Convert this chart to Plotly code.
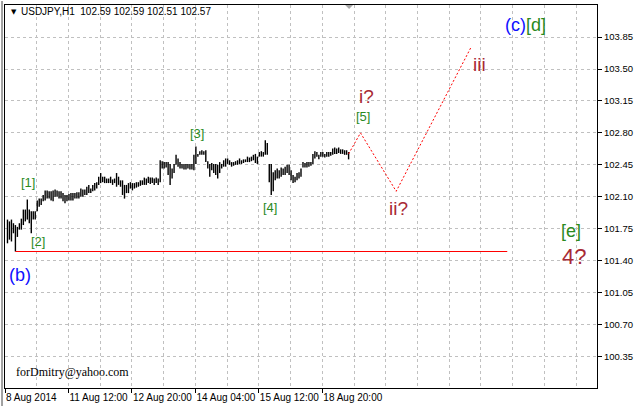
import plotly.graph_objects as go

# ---------------- data ----------------
symbol_info = "USDJPY,H1  102.59 102.59 102.51 102.57"

highs = [101.85, 101.83, 101.85, 101.81, 101.79, 101.77, 101.81, 101.86, 101.96, 101.96,
         102.07, 101.96, 101.94, 101.94, 101.94, 102.06, 102.08, 102.08, 102.12, 102.17,
         102.17, 102.16, 102.16, 102.17, 102.18, 102.17, 102.16, 102.16, 102.14, 102.12,
         102.12, 102.13, 102.14, 102.14, 102.14, 102.15, 102.15, 102.19, 102.18, 102.18,
         102.21, 102.23, 102.19, 102.23, 102.25, 102.26, 102.32, 102.36, 102.32, 102.32,
         102.30, 102.30, 102.32, 102.29, 102.30, 102.36, 102.32, 102.28, 102.28, 102.23,
         102.23, 102.25, 102.26, 102.25, 102.25, 102.26, 102.26, 102.28, 102.28, 102.31,
         102.30, 102.32, 102.31, 102.31, 102.30, 102.31, 102.30, 102.50, 102.49, 102.48,
         102.48, 102.48, 102.46, 102.41, 102.46, 102.56, 102.52, 102.48, 102.46, 102.46,
         102.46, 102.46, 102.46, 102.46, 102.56, 102.65, 102.57, 102.60, 102.61, 102.60,
         102.61, 102.49, 102.46, 102.47, 102.46, 102.46, 102.45, 102.48, 102.46, 102.50,
         102.52, 102.52, 102.50, 102.48, 102.48, 102.49, 102.50, 102.52, 102.50, 102.51,
         102.51, 102.54, 102.53, 102.54, 102.56, 102.57, 102.54, 102.59, 102.60, 102.59,
         102.72, 102.69, 102.46, 102.46, 102.37, 102.39, 102.41, 102.39, 102.42, 102.41,
         102.43, 102.45, 102.45, 102.39, 102.34, 102.32, 102.36, 102.37, 102.41, 102.48,
         102.47, 102.48, 102.48, 102.48, 102.57, 102.60, 102.59, 102.56, 102.59, 102.59,
         102.57, 102.59, 102.59, 102.59, 102.63, 102.64, 102.63, 102.64, 102.62, 102.62,
         102.61, 102.61, 102.59]

lows = [101.59, 101.63, 101.61, 101.70, 101.50, 101.66, 101.74, 101.74, 101.79, 101.83,
        101.85, 101.81, 101.70, 101.85, 101.85, 101.94, 101.99, 102.01, 102.05, 102.06,
        102.08, 102.08, 102.06, 102.05, 102.10, 102.10, 102.08, 102.08, 102.05, 102.03,
        102.05, 102.06, 102.06, 102.06, 102.08, 102.08, 102.08, 102.10, 102.10, 102.12,
        102.12, 102.14, 102.14, 102.16, 102.17, 102.19, 102.23, 102.25, 102.26, 102.25,
        102.25, 102.25, 102.25, 102.23, 102.25, 102.21, 102.23, 102.21, 102.12, 102.08,
        102.14, 102.14, 102.19, 102.17, 102.19, 102.20, 102.21, 102.22, 102.23, 102.23,
        102.23, 102.25, 102.24, 102.25, 102.23, 102.25, 102.23, 102.26, 102.41, 102.41,
        102.42, 102.34, 102.23, 102.30, 102.36, 102.45, 102.43, 102.41, 102.41, 102.40,
        102.40, 102.41, 102.40, 102.40, 102.39, 102.46, 102.54, 102.56, 102.56, 102.56,
        102.48, 102.41, 102.32, 102.39, 102.36, 102.34, 102.30, 102.36, 102.41, 102.43,
        102.43, 102.46, 102.45, 102.43, 102.44, 102.45, 102.45, 102.46, 102.46, 102.47,
        102.48, 102.48, 102.48, 102.49, 102.50, 102.47, 102.46, 102.54, 102.54, 102.54,
        102.56, 102.56, 102.26, 102.12, 102.16, 102.28, 102.30, 102.30, 102.32, 102.34,
        102.34, 102.36, 102.34, 102.28, 102.25, 102.26, 102.28, 102.30, 102.32, 102.42,
        102.42, 102.42, 102.43, 102.44, 102.46, 102.52, 102.54, 102.51, 102.54, 102.54,
        102.53, 102.54, 102.54, 102.55, 102.56, 102.57, 102.57, 102.58, 102.57, 102.57,
        102.56, 102.56, 102.51]

date_labels = ["8 Aug 2014", "11 Aug 12:00", "12 Aug 20:00",
               "14 Aug 04:00", "15 Aug 12:00", "18 Aug 20:00"]
bars_per_label = 32

price_ticks = [100.35, 100.70, 101.05, 101.40, 101.75, 102.10,
               102.45, 102.80, 103.15, 103.50, 103.85]

# projected wave path (bar index, price)
proj_bars = [172, 178, 196, 234]
proj_prices = [102.57, 102.80, 102.16, 103.75]

support_end_bar = 252

# ---------------- geometry ----------------
W, H = 637, 407
ML, MR, MT, MB = 4, 36, 4, 18
PW, PH = W - ML - MR, H - MT - MB
x0 = -1.25
x_range = [x0, x0 + PW / 2.0]
y_range = [100.004, 104.202]

def px_x(p):
    return x0 + (p - ML) / 2.0

def px_y(p):
    return y_range[1] - (p - MT) * (y_range[1] - y_range[0]) / PH

def pap_x(p):
    return (p - ML) / PW

def pap_y(p):
    return 1 - (p - MT) / PH

# ---------------- traces ----------------
xs, ys = [], []
for i, (h, l) in enumerate(zip(highs, lows)):
    xs += [i, i, None]
    ys += [l, h, None]

fig = go.Figure()
fig.add_trace(go.Scatter(x=xs, y=ys, mode="lines",
                         line=dict(color="black", width=1.4),
                         hoverinfo="skip", showlegend=False))
fig.add_trace(go.Scatter(x=proj_bars, y=proj_prices, mode="lines",
                         line=dict(color="#ff0000", width=1, dash="2px,2px"),
                         hoverinfo="skip", showlegend=False))

low_idx = min(range(len(lows)), key=lambda k: lows[k])
fig.add_shape(type="line", xref="x", yref="y",
              x0=low_idx, x1=support_end_bar, y0=lows[low_idx], y1=lows[low_idx],
              line=dict(color="#ff0000", width=1))

# window frame strip on the left
fig.add_shape(type="rect", xref="paper", yref="paper",
              x0=pap_x(0), x1=pap_x(2), y0=pap_y(H), y1=pap_y(0),
              fillcolor="#a0a0a0", line=dict(width=0), layer="above")

# chart-shift marker
fig.add_shape(type="path", xref="paper", yref="paper",
              path="M {a},{t} L {b},{t} L {c},{bt} Z".format(
                  a=pap_x(347), b=pap_x(355), c=pap_x(351), t=pap_y(4), bt=pap_y(8)),
              fillcolor="#a8a8a8", line=dict(width=0))

GREEN = "#2a8a1e"
BROWN = "#a82a35"
BLUE = "#1010ff"
ann = []

def lab(text, px, py, color, size, family="Arial, Liberation Sans, sans-serif"):
    ann.append(dict(x=px_x(px), y=px_y(py), xref="x", yref="y", text=text,
                    showarrow=False, font=dict(color=color, size=size, family=family),
                    xanchor="center", yanchor="middle"))

lab("[1]", 27.5, 182, GREEN, 13)
lab("[2]", 37, 242, GREEN, 13)
lab("[3]", 197.5, 133, GREEN, 13)
lab("[4]", 271.5, 208, GREEN, 13)
lab("[5]", 365.5, 116, GREEN, 13)
lab("i?", 369, 96, BROWN, 19)
lab("ii?", 400.5, 209, BROWN, 19)
lab("iii", 482, 64, BROWN, 19)
lab("(b)", 19.5, 275, BLUE, 18)
lab("<span style='color:%s'>(c)</span><span style='color:%s'>[d]</span>" % (BLUE, GREEN),
    528.5, 24, BLUE, 18)
lab("[e]", 575, 231, GREEN, 18)
lab("4?", 578, 257, BROWN, 22)

ann.append(dict(x=pap_x(8.5), y=pap_y(11), xref="paper", yref="paper", text="▼",
                showarrow=False, font=dict(color="black", size=7, family="DejaVu Sans"),
                xanchor="left", yanchor="middle"))
ann.append(dict(x=pap_x(18), y=pap_y(11), xref="paper", yref="paper", text=symbol_info,
                showarrow=False, font=dict(color="black", size=10, family="Liberation Sans"),
                xanchor="left", yanchor="middle"))
ann.append(dict(x=pap_x(13), y=pap_y(373), xref="paper", yref="paper",
                text="forDmitry@yahoo.com", showarrow=False,
                font=dict(color="black", size=12, family="Liberation Serif"),
                xanchor="left", yanchor="middle"))

fig.update_layout(
    width=W, height=H,
    margin=dict(l=ML, r=MR, t=MT, b=MB, pad=0),
    paper_bgcolor="white", plot_bgcolor="white",
    showlegend=False,
    annotations=ann,
    font=dict(family="Liberation Sans", size=10, color="black"),
)

grid_minor = [x0 + 16 * k for k in range(1, 19)]

fig.update_xaxes(
    range=x_range, showline=True, linecolor="black", linewidth=1, mirror=True,
    tickmode="array", tickvals=[x0 + k * bars_per_label for k in range(len(date_labels))],
    ticktext=date_labels, ticks="outside", ticklen=4, tickcolor="black",
    ticklabelposition="outside right", tickangle=0,
    tickfont=dict(size=10, family="Liberation Sans", color="black"),
    showgrid=True, gridcolor="#c0c0c0", griddash="3px,3px", gridwidth=1,
    minor=dict(tickvals=grid_minor, showgrid=True, gridcolor="#c0c0c0",
               griddash="3px,3px", ticklen=0),
    zeroline=False, fixedrange=True,
)
fig.update_yaxes(
    range=y_range, side="right", showline=True, linecolor="black", linewidth=1,
    mirror=True, tickmode="array", tickvals=price_ticks,
    ticktext=["%.2f" % v for v in price_ticks],
    ticks="outside", ticklen=4, tickcolor="black",
    tickfont=dict(size=9.5, family="Liberation Sans", color="black"),
    showgrid=True, gridcolor="#c0c0c0", griddash="3px,3px", gridwidth=1,
    zeroline=False, fixedrange=True,
)

fig.write_html("out.html", config={"displayModeBar": False},
               post_script="document.body.style.margin='0px';")
